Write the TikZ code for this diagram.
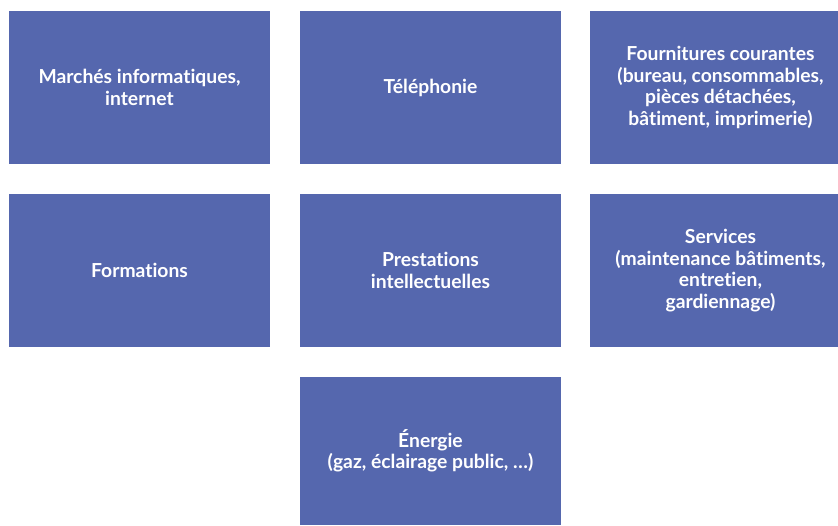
\documentclass[tikz,border=0pt]{standalone}
\usepackage{fontspec}
\setmainfont{Lato}[Ligatures=NoCommon]
\definecolor{boxblue}{HTML}{5567AE}
\begin{document}
\begin{tikzpicture}[x=1pt,y=-1pt,
  catbox/.style={fill=none,draw=none,text=white,font=\fontsize{19.3}{21.5}\selectfont\bfseries,align=center}]
\useasboundingbox (0,0) rectangle (838,525);
\fill[white] (0,0) rectangle (838,525);
\newcommand{\catnode}[6]{%
  \fill[boxblue] (#2,#3) rectangle (#4,#5);
  \node[catbox] (#1) at ({(#2+#4)/2},{(#3+#5)/2}) {#6};}
\catnode{a}{9}{11}{270}{164}{Marchés informatiques,\\internet}
\catnode{b}{300}{11}{561}{164}{Téléphonie}
\fill[boxblue] (590,11) rectangle (838,164);
\node[catbox] (c) at (720.5,87.5) {Fournitures courantes\\(bureau, consommables,\\pièces détachées,\\bâtiment, imprimerie)};
\catnode{d}{9}{194}{270}{347}{Formations}
\catnode{e}{300}{194}{561}{347}{Prestations\\intellectuelles}
\fill[boxblue] (590,194) rectangle (838,347);
\node[catbox] (f) at (720.5,270.5) {Services\\(maintenance bâtiments,\\entretien,\\gardiennage)};
\catnode{g}{300}{377}{561}{525}{Énergie\\(gaz, éclairage public, \dots)}
\end{tikzpicture}
\end{document}
